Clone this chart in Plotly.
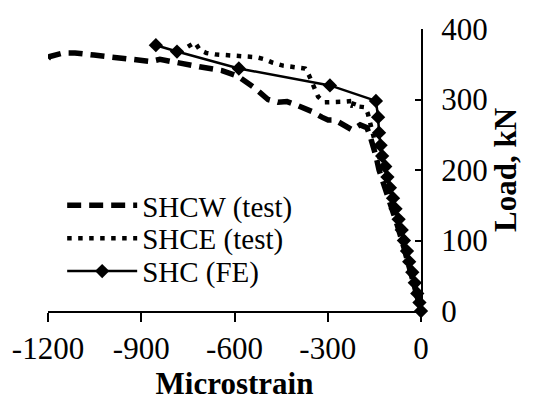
import plotly.graph_objects as go

# SHCW (test) - dashed
shcw_x = [-1200, -1194, -1150, -1113, -1052, -981, -910, -870, -840, -775, -708, -640, -589,
          -534, -492, -460, -431, -400, -351, -319, -299, -277, -260, -222, -196, -174, -165,
          -155, -145, -135, -115, -95, -75, -55, -35, -15, 0]
shcw_y = [358, 361, 366, 366, 363, 359, 355, 354, 357, 351, 346, 341, 333,
          316, 300, 296, 297, 292, 283, 275, 271, 271, 267, 257, 264, 260, 250,
          236, 220, 200, 175, 150, 120, 90, 60, 25, 0]

# SHCE (test) - dotted
shce_x = [-750, -727, -711, -690, -663, -630, -592, -560, -530, -502, -476, -444, -405, -373,
          -360, -341, -331, -312, -277, -245, -220, -212, -219, -180, -171, -164, -155, -140,
          -120, -100, -80, -60, -40, -20, 0]
shce_y = [375, 381, 370, 366, 364, 363, 363, 362, 360, 357, 352, 348, 346, 344,
          334, 315, 304, 296, 296, 297, 298, 300, 291, 289, 280, 268, 250, 225,
          200, 170, 140, 110, 75, 40, 0]

# SHC (FE) - solid with diamonds
fe_x = [-853, -785, -586, -293, -145, -138, -135, -130, -125, -115, -108, -100, -90, -82, -72,
        -62, -55, -45, -38, -28, -20, -12, -5, 0]
fe_y = [377, 368, 344, 320, 298, 275, 253, 235, 220, 205, 190, 175, 160, 145, 130,
        115, 100, 85, 70, 55, 40, 25, 12, 0]

x_ticks = [-1200, -900, -600, -300, 0]
y_ticks = [0, 100, 200, 300, 400]

FONT = "Liberation Serif, Times New Roman, serif"
FS = 31
LFS = 29

fig = go.Figure()
fig.add_trace(go.Scatter(x=shcw_x, y=shcw_y, mode="lines", name="SHCW (test)",
                         line=dict(color="black", width=5.5, dash="14px,8px"),
                         legend="legend"))
fig.add_trace(go.Scatter(x=shce_x, y=shce_y, mode="lines", name="SHCE (test)",
                         line=dict(color="black", width=4.5, dash="4.5px,6.5px"),
                         legend="legend2"))
fig.add_trace(go.Scatter(x=fe_x, y=fe_y, mode="lines+markers", name="SHC (FE)",
                         line=dict(color="black", width=2.5),
                         marker=dict(symbol="diamond", size=11, color="black"),
                         cliponaxis=False, legend="legend3"))

def leg(ypix):
    return dict(x=0.038, xanchor="left", y=(312 - ypix) / 291, yanchor="middle",
                font=dict(family=FONT, size=LFS, color="black"),
                bgcolor="rgba(0,0,0,0)", itemwidth=70, tracegroupgap=0)

fig.update_layout(
    width=533, height=402,
    margin=dict(l=48, r=112, t=21, b=90),
    paper_bgcolor="white", plot_bgcolor="white",
    font=dict(family=FONT, size=FS, color="black"),
    showlegend=True,
    legend=leg(203), legend2=leg(237), legend3=leg(271),
    xaxis=dict(range=[-1200, 0], tickvals=x_ticks, ticktext=[str(v) for v in x_ticks],
               showgrid=False, zeroline=False, showline=True, linecolor="black", linewidth=2,
               ticks="outside", ticklen=9, tickwidth=2, tickcolor="black",
               tickfont=dict(family=FONT, size=FS),
               title=dict(text="<b>Microstrain</b>", font=dict(family=FONT, size=FS), standoff=2)),
    yaxis=dict(range=[0, 400], tickvals=y_ticks, side="right",
               showgrid=False, zeroline=False, showline=True, linecolor="black", linewidth=2,
               ticks="inside", ticklen=6, tickwidth=2, tickcolor="black",
               tickfont=dict(family=FONT, size=FS), ticklabelstandoff=12,
               title=dict(text="<b>Load, kN</b>", font=dict(family=FONT, size=FS), standoff=2)),
)

fig.write_html("out.html")
